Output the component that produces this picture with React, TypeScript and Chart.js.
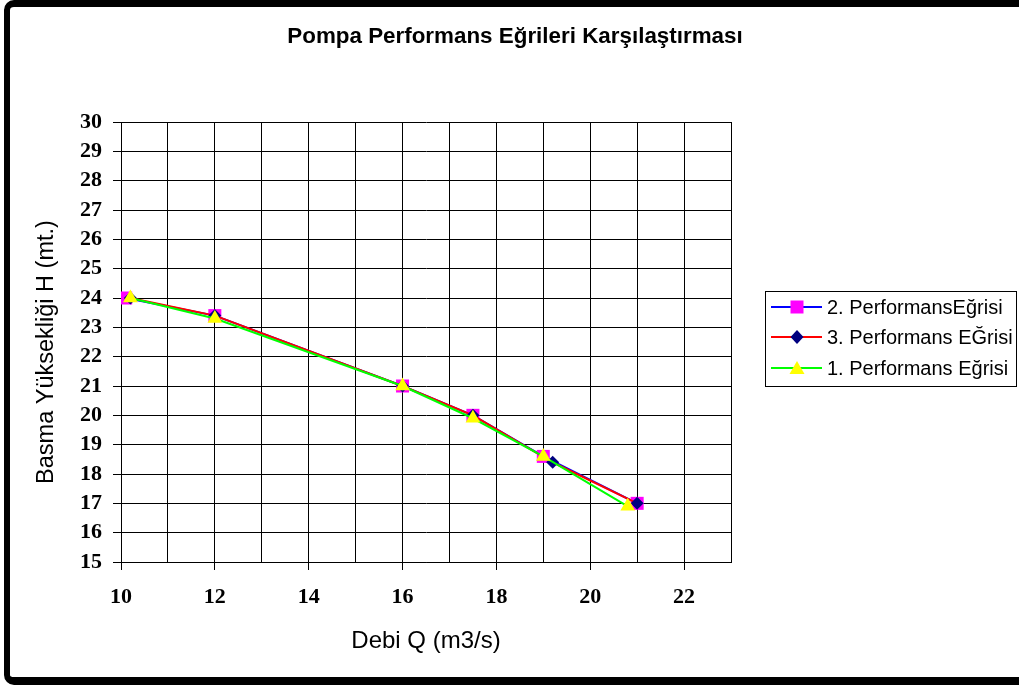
import React, { useEffect, useRef } from 'react';
import { Chart, registerables } from 'chart.js';

Chart.register(...registerables);

const chartTitle = 'Pompa Performans Eğrileri Karşılaştırması';
const xTitle = 'Debi Q (m3/s)';
const yTitle = 'Basma Yüksekliği H (mt.)';

const seriesNames = ['2. PerformansEğrisi', '3. Performans EĞrisi', '1. Performans Eğrisi'];
const flow2 = [10.1, 12, 16, 17.5, 19, 21];
const head2 = [24, 23.4, 21, 20, 18.6, 17];
const flow3 = [10.2, 12, 16, 17.5, 19.2, 21];
const head3 = [24, 23.4, 21, 20, 18.4, 17];
const flow1 = [10.2, 12, 16, 17.5, 19, 20.8];
const head1 = [24, 23.3, 21, 19.9, 18.6, 16.9];
const xTickLabels = [10, 12, 14, 16, 18, 20, 22];
const xMin = 10;
const xMax = 23;
const yMin = 15;
const yMax = 30;

const sans = '"Liberation Sans", Arial, sans-serif';

const pts = (xs: number[], ys: number[]) => xs.map((x, i) => ({ x, y: ys[i] }));

const textPlugin = {
  id: 'textDecor',
  afterDraw(chart: any) {
    const ctx = chart.ctx;
    ctx.save();
    ctx.fillStyle = '#000';
    ctx.textAlign = 'center';
    ctx.textBaseline = 'middle';
    ctx.font = `bold 22.4px ${sans}`;
    ctx.fillText(chartTitle, 515, 37);
    ctx.translate(47, 352);
    ctx.rotate(-Math.PI / 2);
    ctx.font = `23.5px ${sans}`;
    ctx.fillText(yTitle, 0, 0);
    ctx.restore();
  },
};

const legendPlugin = {
  id: 'boxLegend',
  afterDraw(chart: any) {
    const ctx = chart.ctx;
    const bx = 765, by = 291, bw = 251, bh = 95;
    ctx.save();
    ctx.strokeStyle = '#000';
    ctx.lineWidth = 1;
    ctx.strokeRect(bx + 0.5, by + 0.5, bw, bh);
    const rows = [307, 337, 368];
    chart.data.datasets.forEach((ds: any, i: number) => {
      const y = rows[i];
      ctx.strokeStyle = ds.borderColor;
      ctx.lineWidth = 2;
      ctx.beginPath();
      ctx.moveTo(771, y);
      ctx.lineTo(822, y);
      ctx.stroke();
      ctx.fillStyle = ds.pointBackgroundColor;
      ctx.beginPath();
      const cx = 797;
      if (ds.pointStyle === 'rect') {
        ctx.rect(cx - 6.5, y - 6.5, 13, 13);
      } else if (ds.pointStyle === 'rectRot') {
        ctx.moveTo(cx, y - 7);
        ctx.lineTo(cx + 6.5, y);
        ctx.lineTo(cx, y + 7);
        ctx.lineTo(cx - 6.5, y);
        ctx.closePath();
      } else {
        ctx.moveTo(cx, y - 7);
        ctx.lineTo(cx + 7.5, y + 6);
        ctx.lineTo(cx - 7.5, y + 6);
        ctx.closePath();
      }
      ctx.fill();
      ctx.fillStyle = '#000';
      ctx.font = `20px ${sans}`;
      ctx.textBaseline = 'middle';
      ctx.textAlign = 'left';
      ctx.fillText(ds.label, 827, y + 1);
    });
    ctx.restore();
  },
};

export default function App() {
  const ref = useRef<HTMLCanvasElement | null>(null);
  useEffect(() => {
    document.body.style.margin = '0';
    const canvas = ref.current;
    if (!canvas) return;
    const tickFont = { family: '"Liberation Serif", "Times New Roman", serif', size: 22, weight: 'bold' as const };
    const chart = new Chart(canvas, {
      type: 'line',
      data: {
        datasets: [
          {
            label: seriesNames[0],
            data: pts(flow2, head2),
            borderColor: '#0000FF',
            backgroundColor: '#FF00FF',
            pointBackgroundColor: '#FF00FF',
            pointBorderWidth: 0,
            pointStyle: 'rect',
            pointRadius: 9.2,
            borderWidth: 2,
            tension: 0,
            order: 3,
          },
          {
            label: seriesNames[1],
            data: pts(flow3, head3),
            borderColor: '#FF0000',
            backgroundColor: '#000080',
            pointBackgroundColor: '#000080',
            pointBorderWidth: 0,
            pointStyle: 'rectRot',
            pointRadius: 6.5,
            borderWidth: 2,
            tension: 0,
            order: 2,
          },
          {
            label: seriesNames[2],
            data: pts(flow1, head1),
            borderColor: '#00FF00',
            backgroundColor: '#FFFF00',
            pointBackgroundColor: '#FFFF00',
            pointBorderWidth: 0,
            pointStyle: 'triangle',
            pointRadius: 8.5,
            borderWidth: 2,
            tension: 0,
            order: 1,
          },
        ] as any,
      },
      options: {
        responsive: false,
        animation: false,
        devicePixelRatio: 1,
        layout: { padding: { left: 0, top: 122, right: 288, bottom: 0 } },
        plugins: {
          legend: { display: false },
          tooltip: { enabled: false },
          title: { display: false },
        },
        scales: {
          x: {
            type: 'linear',
            min: xMin,
            max: xMax,
            afterFit: (s: any) => { s.height = 123; },
            ticks: {
              stepSize: 1,
              autoSkip: false,
              maxRotation: 0,
              color: '#000',
              font: tickFont,
              padding: 14,
              callback: (v: any) => (xTickLabels.includes(Number(v)) ? String(v) : ''),
            },
            grid: {
              color: '#000',
              lineWidth: 1,
              tickLength: 8,
              tickColor: (c: any) => (c.tick && xTickLabels.includes(c.tick.value) ? '#000' : 'rgba(0,0,0,0)'),
            },
            border: { display: true, color: '#000', width: 1 },
            title: {
              display: true,
              text: xTitle,
              color: '#000',
              font: { family: sans, size: 24 },
              padding: { top: 0, bottom: 29 },
            },
          },
          y: {
            type: 'linear',
            min: yMin,
            max: yMax,
            afterFit: (s: any) => { s.width = 121; },
            ticks: {
              stepSize: 1,
              autoSkip: false,
              color: '#000',
              font: tickFont,
              padding: 11,
            },
            grid: { color: '#000', lineWidth: 1, tickLength: 8, tickColor: '#000' },
            border: { display: true, color: '#000', width: 1 },
            title: { display: false },
          },
        },
      } as any,
      plugins: [textPlugin, legendPlugin],
    });
    return () => chart.destroy();
  }, []);

  return (
    <div style={{ position: 'relative', width: 1019, height: 685, overflow: 'hidden', background: '#fff' }}>
      <div
        style={{
          position: 'absolute',
          left: 4,
          top: 0,
          width: 1040,
          height: 685,
          boxSizing: 'border-box',
          borderStyle: 'solid',
          borderColor: '#000',
          borderWidth: '7px 6px 8px 6px',
          borderRadius: 10,
        }}
      />
      <canvas ref={ref} width={1019} height={685} style={{ position: 'absolute', left: 0, top: 0 }} />
    </div>
  );
}
